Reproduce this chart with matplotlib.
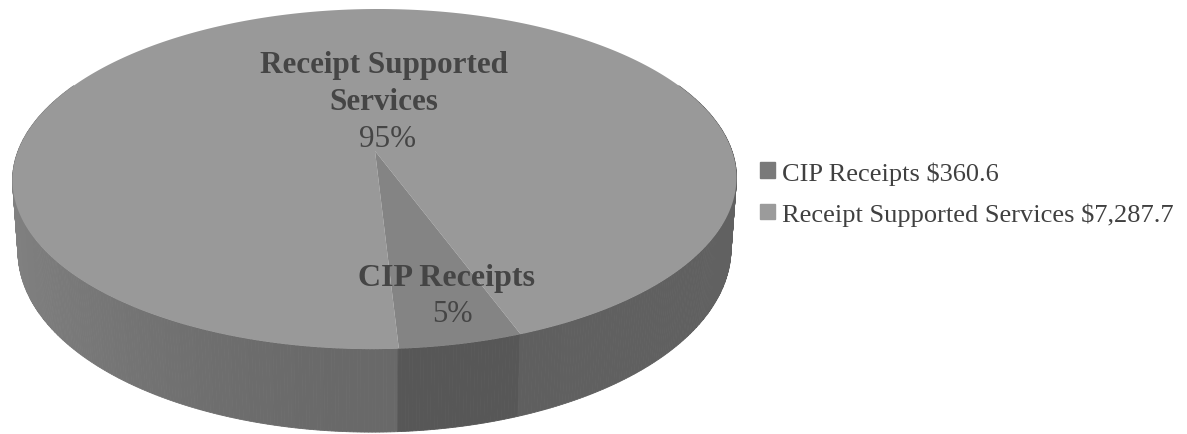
import numpy as np
import matplotlib
matplotlib.use('Agg')
import matplotlib.pyplot as plt
from matplotlib.patches import Patch

# Values in $ as printed in the legend
categories = ['CIP Receipts', 'Receipt Supported Services']
values = [360.6, 7287.7]
percent_labels = ['5%', '95%']
legend_labels = ['CIP Receipts $360.6', 'Receipt Supported Services $7,287.7']

plt.rcParams['font.family'] = ['Liberation Serif', 'DejaVu Serif']

W, H = 1187, 435
fig = plt.figure(figsize=(W / 100, H / 100), dpi=100)
ax = fig.add_axes([0, 0, 1, 1])
ax.set_xlim(0, W)
ax.set_ylim(H, 0)
ax.axis('off')

# perspective of the tilted disc, fitted on the picture
cx, cy = 375, 152
rx = 357
a, k = 140.35, -0.165
label_color = '#454545'

# the small slice starts just right of the front of the pie
start = np.radians(3.6)
sweep = np.radians(360 * values[0] / sum(values))


def project(phi):
    # phi in radians, counted from the front of the disc, going to the right
    v = np.cos(phi)
    x = cx + rx * np.sin(phi) / (1 + k * v) - 3 * v
    y = (cy + a * v) / (1 + k * v)
    return x, y


def depth(phi):
    return 68 + 15 * np.cos(phi)


def shade(phi):
    # side wall gets darker towards the front
    if start <= phi <= start + sweep:
        return 0.34
    s = np.sin(phi)
    return 0.41 + 0.10 * abs(s) ** 1.5 if phi < start else 0.37 + 0.01 * s


# top face
phi_big = np.linspace(start + sweep, start + 2 * np.pi, 400)
x, y = project(phi_big)
ax.fill(np.r_[cx, x], np.r_[cy, y], color='#999999', lw=0, zorder=2)

phi_small = np.linspace(start, start + sweep, 40)
x, y = project(phi_small)
ax.fill(np.r_[cx, x], np.r_[cy, y], color='#848484', lw=0, zorder=3)

# side wall, drawn as thin strips to get the soft shading
edges = np.radians(np.linspace(-115, 115, 461))
for p0, p1 in zip(edges[:-1], edges[1:]):
    p = np.linspace(p0, p1, 3)
    x, y = project(p)
    d = depth(p)
    # the lower rim sits slightly inside the upper one
    x_low = cx + (x - cx) * 0.985
    g = shade((p0 + p1) / 2)
    ax.fill(np.r_[x, x_low[::-1]], np.r_[y, (y + d)[::-1]], color=str(g),
            ec=str(g), lw=0.6, zorder=1)

# slice labels
ax.text(384, 65, 'Receipt Supported', ha='center', va='center', fontsize=22.4,
        fontweight='bold', color=label_color, zorder=5)
ax.text(384, 102, 'Services', ha='center', va='center', fontsize=22.4,
        fontweight='bold', color=label_color, zorder=5)
ax.text(388, 140, percent_labels[1], ha='center', va='center', fontsize=22.4,
        color=label_color, zorder=5)
ax.text(446, 279, categories[0], ha='center', va='center', fontsize=23,
        fontweight='bold', color=label_color, zorder=5)
ax.text(452, 315, percent_labels[0], ha='center', va='center', fontsize=22,
        color=label_color, zorder=5)

handles = [Patch(color='#7a7a7a'), Patch(color='#9b9b9b')]
ax.legend(handles, legend_labels, loc='center left', bbox_to_anchor=(760 / W, 1 - 194.5 / H),
          frameon=False, fontsize=19, labelcolor='#404040', handlelength=0.55,
          handleheight=0.55, handletextpad=0.3, labelspacing=0.67, borderpad=0,
          borderaxespad=0)

fig.savefig('out.png', dpi=100)
